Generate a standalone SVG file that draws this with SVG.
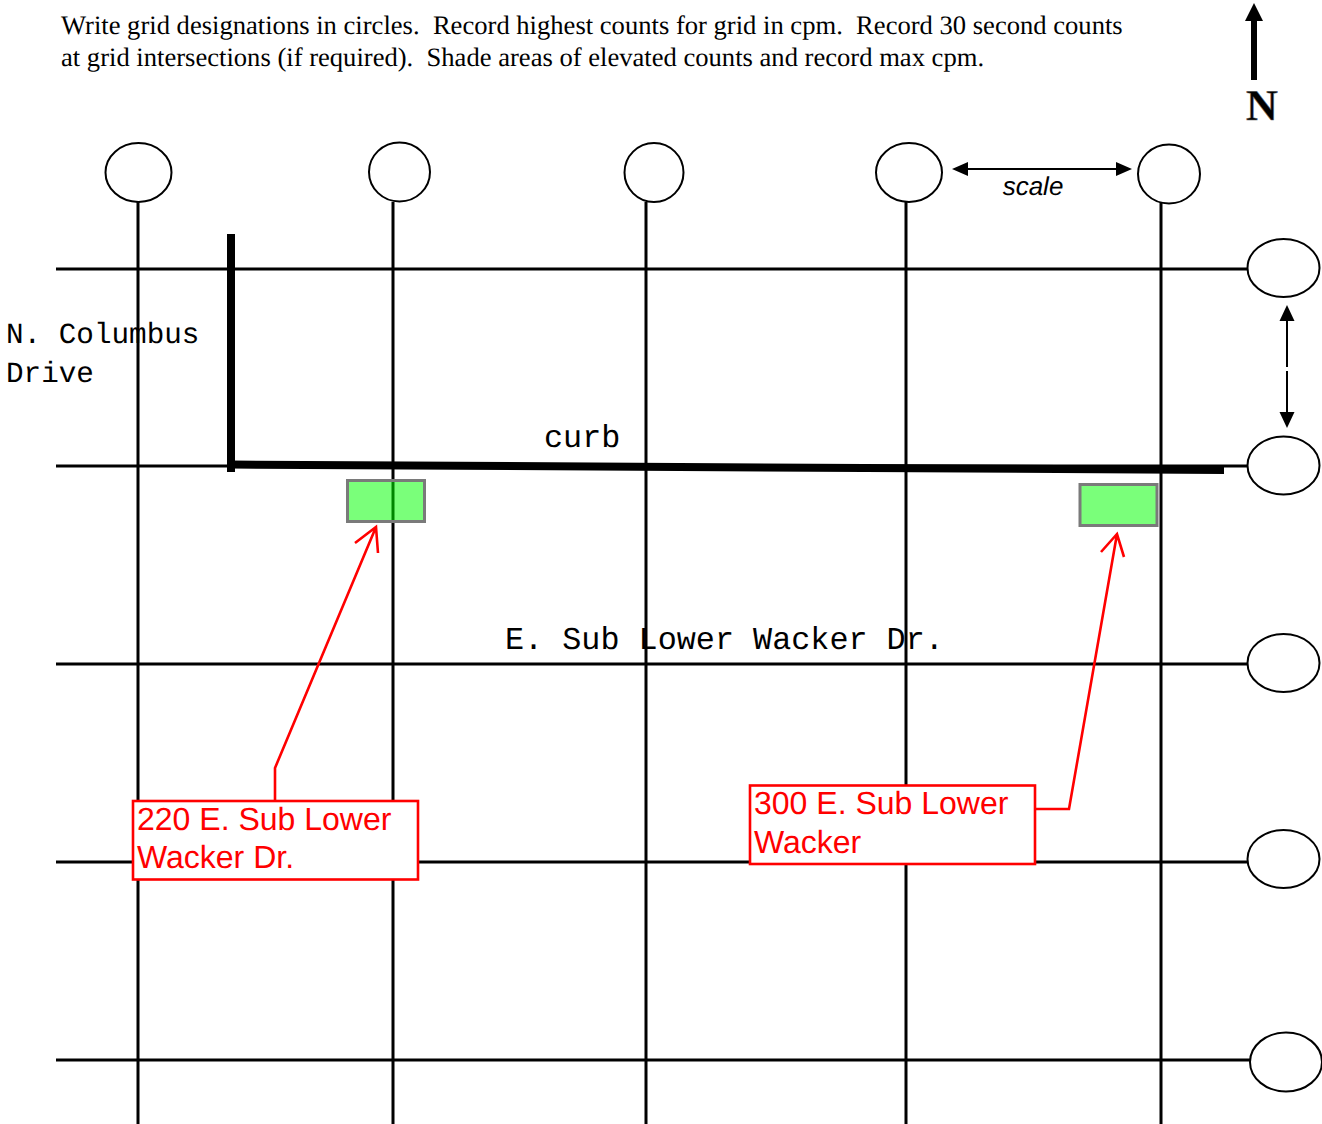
<svg xmlns="http://www.w3.org/2000/svg" width="1322" height="1124" viewBox="0 0 1322 1124">
<style>
text{text-rendering:geometricPrecision}
.grid{stroke:#000;stroke-width:3;fill:none}
.bub{fill:#fff;stroke:#000;stroke-width:2}
.red{stroke:#f00;stroke-width:2.6;fill:none}
.box{fill:#fff;stroke:#f00;stroke-width:2.6}
.hot{fill:#00ff00;fill-opacity:.52;stroke:#7a7a7a;stroke-width:3}
.t{font-family:"Liberation Serif",serif;font-size:26.6px;fill:#000;white-space:pre}
.m{font-family:"Liberation Mono",monospace;font-size:31.8px;fill:#000}
.ms{font-family:"Liberation Mono",monospace;font-size:29.3px;fill:#000}
.l{font-family:"Liberation Sans",sans-serif;font-size:32px;fill:#f00}
</style>
<rect width="1322" height="1124" fill="#fff"/>
<g id="connectors">
<path class="grid" d="M56 269H1248M56 466H1248M56 664H1248M56 862H1248M56 1060H1250"/>
<path class="grid" d="M138 202V1124M393 202V1124M646 202V1124M906 202V1124M1161 202V1124"/>
<path d="M231 234V472" stroke="#000" stroke-width="8" fill="none"/>
<path d="M231 464.500L1224 470" stroke="#000" stroke-width="8" fill="none"/>
<path d="M1254 80V18" stroke="#000" stroke-width="6" fill="none"/>
<path d="M1254 3L1263 21H1245Z" fill="#000"/>
<path d="M966 169H1118" stroke="#000" stroke-width="2" fill="none"/>
<path d="M952 169L968 162V176ZM1132 169L1116 162V176Z" fill="#000"/>
<path d="M1287 318V367M1287 371V416" stroke="#000" stroke-width="2" fill="none"/>
<path d="M1287 305L1279.500 321H1294.500ZM1287 428L1279.500 412H1294.500Z" fill="#000"/>
<path class="red" d="M275 801V768L376 527M355 543L376 527L378 553"/>
<path class="red" d="M1036 809H1069L1117 534M1101 552L1117 534L1124 557"/>
</g>
<g id="hot-1"><rect class="hot" x="347.500" y="480.500" width="77" height="41"/></g>
<g id="hot-2"><rect class="hot" x="1080" y="484.500" width="77" height="41"/></g>
<g id="bubble-v1"><ellipse class="bub" cx="138.500" cy="172.500" rx="33" ry="29.500"/></g>
<g id="bubble-v2"><ellipse class="bub" cx="399.500" cy="172" rx="30.500" ry="29.500"/></g>
<g id="bubble-v3"><ellipse class="bub" cx="654" cy="172.500" rx="29.500" ry="29.500"/></g>
<g id="bubble-v4"><ellipse class="bub" cx="909" cy="172.500" rx="33" ry="29.500"/></g>
<g id="bubble-v5"><ellipse class="bub" cx="1169" cy="174" rx="31" ry="29.500"/></g>
<g id="bubble-h1"><ellipse class="bub" cx="1283.500" cy="268" rx="36" ry="29"/></g>
<g id="bubble-h2"><ellipse class="bub" cx="1283.500" cy="465.500" rx="36" ry="29"/></g>
<g id="bubble-h3"><ellipse class="bub" cx="1283.500" cy="663" rx="36" ry="29"/></g>
<g id="bubble-h4"><ellipse class="bub" cx="1283.500" cy="859" rx="36" ry="29"/></g>
<g id="bubble-h5"><ellipse class="bub" cx="1286" cy="1062" rx="36" ry="29.500"/></g>
<g id="label-220"><rect class="box" x="133" y="801" width="285" height="78.500"/>
<text class="l" x="137" y="830">220 E. Sub Lower</text><text class="l" x="137" y="868">Wacker Dr.</text></g>
<g id="label-300"><rect class="box" x="750" y="785.500" width="285" height="78.500"/>
<text class="l" x="754" y="814">300 E. Sub Lower</text><text class="l" x="754" y="853">Wacker</text></g>
<g id="notes">
<text class="t" x="61" y="34" xml:space="preserve">Write grid designations in circles.  Record highest counts for grid in cpm.  Record 30 second counts</text>
<text class="t" x="61" y="66" xml:space="preserve">at grid intersections (if required).  Shade areas of elevated counts and record max cpm.</text>
<text x="1262" y="120" text-anchor="middle" font-family="Liberation Serif,serif" font-weight="bold" font-size="44" fill="#000" stroke="#666" stroke-width=".6">N</text>
<text x="1033" y="195" text-anchor="middle" font-family="Liberation Sans,sans-serif" font-style="italic" font-size="26" fill="#000">scale</text>
<text class="ms" x="6" y="342.500">N. Columbus</text>
<text class="ms" x="6" y="382">Drive</text>
<text class="m" x="544" y="447">curb</text>
<text class="m" x="505" y="649">E. Sub Lower Wacker Dr.</text>
</g>
</svg>
